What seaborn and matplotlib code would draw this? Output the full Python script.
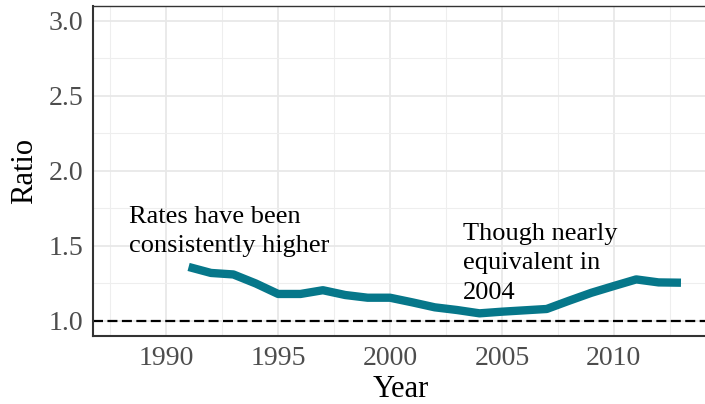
import numpy as np
import pandas as pd
import matplotlib
matplotlib.use('Agg')
import matplotlib.pyplot as plt
from matplotlib.ticker import MultipleLocator
import seaborn as sns

# ratio of rates by year
years = list(range(1991, 2014))
ratio = [1.36, 1.32, 1.31, 1.25, 1.18, 1.18, 1.205, 1.173, 1.155, 1.155,
         1.124, 1.091, 1.073, 1.051, 1.062, 1.071, 1.08, 1.135, 1.188,
         1.233, 1.277, 1.257, 1.255]

x_ticks = [1990, 1995, 2000, 2005, 2010]
y_ticks = [1.0, 1.5, 2.0, 2.5, 3.0]

# notes: anchored at the baseline of their last line
note_left = "Rates have been\nconsistently higher"
note_left_xy = (1988.35, 1.458)
note_right = "Though nearly\nequivalent in\n2004"
note_right_xy = (2003.25, 1.146)

df = pd.DataFrame({'year': years, 'ratio': ratio})

sns.set_style("white")
plt.rcParams['font.family'] = ['Liberation Serif', 'DejaVu Serif']

fig = plt.figure(figsize=(7.05, 4.04), dpi=100)
ax = fig.add_axes([0.1326, 0.1683, 0.873, 0.8176])

ax.axhline(1.0, color='black', lw=1.6, dashes=(4.5, 2), zorder=2)
sns.lineplot(data=df, x='year', y='ratio', ax=ax, color='#06778a', lw=6,
             solid_capstyle='butt', zorder=3)

for txt, (tx, ty) in [(note_left, note_left_xy), (note_right, note_right_xy)]:
    ax.text(tx, ty, txt, fontsize=19, ha='left', va='baseline',
            linespacing=1.45, color='black')

ax.set_xlim(1986.75, 2014.25)
ax.set_ylim(0.9, 3.1)
ax.set_xticks(x_ticks)
ax.set_yticks(y_ticks)
ax.set_yticklabels([f'{v:.1f}' for v in y_ticks])
ax.xaxis.set_minor_locator(MultipleLocator(2.5))
ax.yaxis.set_minor_locator(MultipleLocator(0.25))

ax.grid(which='major', color='#e8e8e8', lw=1.3, zorder=0)
ax.grid(which='minor', color='#eeeeee', lw=0.8, zorder=0)
ax.set_axisbelow(True)

for side in ['top', 'right']:
    ax.spines[side].set_color('#333333')
    ax.spines[side].set_linewidth(1.0)
for side in ['left', 'bottom']:
    ax.spines[side].set_color('#333333')
    ax.spines[side].set_linewidth(1.5)

ax.tick_params(which='major', length=4.3, width=1.1, color='#333333',
               labelsize=20, labelcolor='#4d4d4d', pad=3)
ax.tick_params(which='minor', length=0)

ax.set_xlabel('Year', fontsize=22, color='black', labelpad=3)
ax.set_ylabel('Ratio', fontsize=22, color='black', labelpad=7)

fig.savefig('out.png', dpi=100)
